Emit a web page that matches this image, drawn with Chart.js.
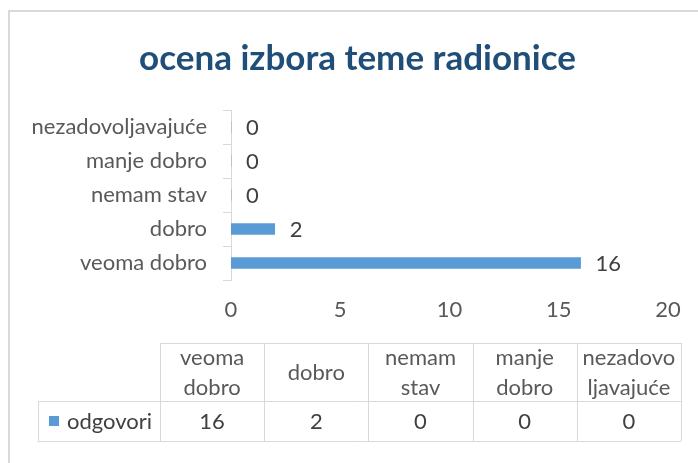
<!DOCTYPE html>
<html>
<head>
<meta charset="utf-8">
<script src="https://cdn.jsdelivr.net/npm/chart.js@4"></script>
<style>
  html, body { margin: 0; padding: 0; background: #fff; }
  #wrap { width: 698px; height: 463px; }
</style>
</head>
<body>
<div id="wrap"><canvas id="chartOcena"></canvas></div>
<script>
const categories = ['veoma dobro', 'dobro', 'nemam stav', 'manje dobro', 'nezadovoljavajuće'];
const odgovori = [16, 2, 0, 0, 0];
const seriesName = 'odgovori';
const xTicks = [0, 5, 10, 15, 20];

const FONT = 'Lato, "Open Sans", sans-serif';
const BLUE = '#5B9BD5';
const LINE = '#d9d9d9';

// frame round the whole chart
const framePlugin = {
    id: 'frame',
    beforeDraw(chart) {
        const ctx = chart.ctx;
        ctx.save();
        ctx.strokeStyle = LINE;
        ctx.lineWidth = 2;
        ctx.strokeRect(9, 11, 800, 600);
        ctx.restore();
    }
};

// value labels at the end of each bar
const valueLabels = {
    id: 'valueLabels',
    afterDatasetsDraw(chart) {
        const ctx = chart.ctx;
        const meta = chart.getDatasetMeta(0);
        ctx.save();
        ctx.font = '22px ' + FONT;
        ctx.fillStyle = '#404040';
        ctx.textBaseline = 'middle';
        ctx.textAlign = 'left';
        meta.data.forEach((bar, i) => {
            ctx.fillText(String(odgovori[i]), bar.x + 15, bar.y + 1);
        });
        ctx.restore();
    }
};

function wrapText(ctx, text, maxW) {
    const lines = [];
    let cur = '';
    text.split(' ').forEach(word => {
        const test = cur ? cur + ' ' + word : word;
        if (ctx.measureText(test).width <= maxW) {
            cur = test;
            return;
        }
        if (cur) lines.push(cur);
        cur = '';
        for (const ch of word) {
            if (ctx.measureText(cur + ch).width > maxW && cur) {
                lines.push(cur);
                cur = ch;
            } else {
                cur += ch;
            }
        }
    });
    if (cur) lines.push(cur);
    return lines;
}

// data table under the axis
const dataTable = {
    id: 'dataTable',
    afterDraw(chart) {
        const ctx = chart.ctx;
        const left = 160, right = 681, top = 343, mid = 401, bottom = 441, legLeft = 38;
        const colW = (right - left) / categories.length;
        ctx.save();
        ctx.strokeStyle = LINE;
        ctx.lineWidth = 1;
        ctx.beginPath();
        ctx.moveTo(left, top + 0.5); ctx.lineTo(right, top + 0.5);
        ctx.moveTo(legLeft, mid + 0.5); ctx.lineTo(right, mid + 0.5);
        ctx.moveTo(legLeft, bottom + 0.5); ctx.lineTo(right, bottom + 0.5);
        ctx.moveTo(legLeft + 0.5, mid); ctx.lineTo(legLeft + 0.5, bottom);
        for (let i = 0; i <= categories.length; i++) {
            const x = Math.round(left + i * colW) + 0.5;
            ctx.moveTo(x, top); ctx.lineTo(x, bottom);
        }
        ctx.stroke();

        ctx.font = '22px ' + FONT;
        ctx.textAlign = 'center';
        ctx.textBaseline = 'middle';
        const lh = 30;
        categories.forEach((c, i) => {
            const cx = left + (i + 0.5) * colW;
            const lines = wrapText(ctx, c, colW - 9);
            const cy = (top + mid) / 2 + 1 - (lines.length - 1) * lh / 2;
            ctx.fillStyle = '#595959';
            lines.forEach((ln, j) => ctx.fillText(ln, cx, cy + j * lh));
            ctx.fillStyle = '#404040';
            ctx.fillText(String(odgovori[i]), cx, (mid + bottom) / 2 + 1);
        });

        ctx.fillStyle = BLUE;
        ctx.fillRect(49, 416, 10, 10);
        ctx.fillStyle = '#404040';
        ctx.textAlign = 'left';
        ctx.fillText(seriesName, 67, (mid + bottom) / 2 + 1);
        ctx.restore();
    }
};

new Chart(document.getElementById('chartOcena'), {
    type: 'bar',
    data: {
        labels: categories,
        datasets: [{
            label: seriesName,
            data: odgovori,
            backgroundColor: BLUE,
            borderWidth: 0,
            barThickness: 11
        }]
    },
    options: {
        indexAxis: 'y',
        responsive: true,
        maintainAspectRatio: false,
        animation: false,
        layout: { padding: { left: 17, right: 0, top: 0, bottom: 143 } },
        plugins: {
            legend: { display: false },
            tooltip: { enabled: false },
            title: {
                display: true,
                text: 'ocena izbora teme radionice',
                color: '#1F4E79',
                font: { family: FONT, size: 35, weight: 'bold' },
                padding: { top: 38, bottom: 30 }
            }
        },
        scales: {
            x: {
                min: xTicks[0],
                max: xTicks[xTicks.length - 1],
                afterBuildTicks(scale) {
                    scale.ticks = xTicks.map(v => ({ value: v }));
                },
                afterFit(scale) {
                    scale.paddingRight = 30;
                    scale.height = 40;
                },
                grid: { display: false, drawTicks: false },
                border: { display: false },
                ticks: {
                    color: '#595959',
                    font: { family: FONT, size: 22 },
                    padding: 17,
                    maxRotation: 0
                }
            },
            y: {
                reverse: true,
                afterFit(scale) {
                    scale.width = 231 - 17;
                },
                grid: {
                    drawOnChartArea: false,
                    drawTicks: true,
                    tickLength: 8,
                    color: LINE
                },
                border: { display: true, color: LINE },
                ticks: {
                    color: '#595959',
                    font: { family: FONT, size: 22 },
                    padding: 16
                }
            }
        }
    },
    plugins: [framePlugin, valueLabels, dataTable]
});
</script>
</body>
</html>
